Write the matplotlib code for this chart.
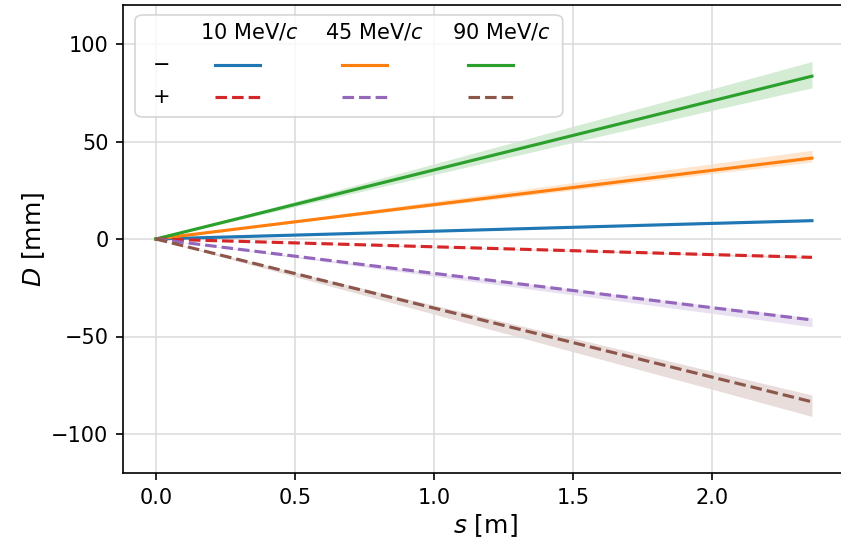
import matplotlib.pyplot as plt
from matplotlib.lines import Line2D
from matplotlib.patches import FancyBboxPatch

s = [0.0, 0.5, 1.0, 1.5, 2.0, 2.36]

momenta = ["10 MeV/$c$", "45 MeV/$c$", "90 MeV/$c$"]

# negative charge (solid)
neg_10 = [0, 2.0, 4.0, 6.0, 8.0, 9.4]
neg_45 = [0, 8.8, 17.6, 26.4, 35.2, 41.5]
neg_90 = [0, 17.7, 35.4, 53.1, 70.8, 83.5]
neg_10_hi = [0, 2.1, 4.2, 6.3, 8.4, 9.9]
neg_10_lo = [0, 1.9, 3.8, 5.7, 7.6, 9.0]
neg_45_hi = [0, 9.6, 19.3, 28.9, 38.6, 45.5]
neg_45_lo = [0, 8.4, 16.7, 25.1, 33.5, 39.5]
neg_90_hi = [0, 19.2, 38.5, 57.8, 77.0, 91.0]
neg_90_lo = [0, 16.5, 33.0, 49.5, 66.0, 77.5]

# positive charge (dashed)
pos_10 = [0, -2.0, -4.0, -6.0, -8.0, -9.4]
pos_45 = [0, -8.8, -17.6, -26.4, -35.2, -41.5]
pos_90 = [0, -17.7, -35.4, -53.1, -70.8, -83.5]
pos_10_hi = [0, -1.9, -3.8, -5.7, -7.6, -9.0]
pos_10_lo = [0, -2.1, -4.2, -6.3, -8.4, -9.9]
pos_45_hi = [0, -8.6, -17.2, -25.7, -34.3, -40.5]
pos_45_lo = [0, -9.5, -19.1, -28.6, -38.1, -45.0]
pos_90_hi = [0, -17.0, -33.9, -50.8, -67.8, -80.0]
pos_90_lo = [0, -19.3, -38.5, -57.8, -77.0, -91.0]

neg = [(neg_10, neg_10_lo, neg_10_hi, "C0"),
       (neg_45, neg_45_lo, neg_45_hi, "C1"),
       (neg_90, neg_90_lo, neg_90_hi, "C2")]
pos = [(pos_10, pos_10_lo, pos_10_hi, "C3"),
       (pos_45, pos_45_lo, pos_45_hi, "C4"),
       (pos_90, pos_90_lo, pos_90_hi, "C5")]

fig = plt.figure(figsize=(841 / 150, 541 / 150), dpi=150)
# right spine falls just outside the canvas, as in the cropped original
ax = fig.add_axes([123 / 841, 1 - 473 / 541, 724 / 841, 468 / 541])

for y, lo, hi, c in neg:
    ax.fill_between(s, lo, hi, color=c, alpha=0.2, linewidth=0)
    ax.plot(s, y, color=c, linestyle="-")
for y, lo, hi, c in pos:
    ax.fill_between(s, lo, hi, color=c, alpha=0.2, linewidth=0)
    ax.plot(s, y, color=c, linestyle="--")

ax.set_xlim(-0.118, 2.486)
ax.set_ylim(-120, 120)
ax.set_xticks([0.0, 0.5, 1.0, 1.5, 2.0])
ax.set_yticks([-100, -50, 0, 50, 100])
ax.grid(True, color="#dddddd", linewidth=0.8)
ax.set_xlabel("$s$ [m]", fontsize=12, labelpad=2)
ax.set_ylabel("$D$ [mm]", fontsize=12, labelpad=2)

# legend laid out as a grid: rows = charge, columns = momentum
fx = 720 / 724
box = FancyBboxPatch((0.0167 * fx, 0.7607), 0.594 * fx, 0.218,
                     boxstyle="round,pad=0,rounding_size=0.012",
                     transform=ax.transAxes, facecolor="white",
                     edgecolor="#cccccc", alpha=0.8, linewidth=0.8, zorder=5)
ax.add_patch(box)

head_x = [0.1069, 0.2806, 0.4569]
line_x = [(0.1278, 0.1903), (0.3042, 0.3667), (0.4792, 0.5417)]
row_y = [0.8718, 0.8034]
ax.text(0.0542 * fx, row_y[0], "\u2212", transform=ax.transAxes,
        ha="center", va="center", zorder=6)
ax.text(0.0542 * fx, row_y[1], "+", transform=ax.transAxes,
        ha="center", va="center", zorder=6)
for i in range(3):
    ax.text(head_x[i] * fx, 0.9423, momenta[i], transform=ax.transAxes,
            ha="left", va="center", zorder=6)
    xs = [line_x[i][0] * fx, line_x[i][1] * fx]
    ax.add_line(Line2D(xs, [row_y[0]] * 2, color=neg[i][3],
                       linestyle="-", transform=ax.transAxes, zorder=6))
    ax.add_line(Line2D(xs, [row_y[1]] * 2, color=pos[i][3],
                       linestyle="--", transform=ax.transAxes, zorder=6))

fig.savefig("out.png", dpi=150)
